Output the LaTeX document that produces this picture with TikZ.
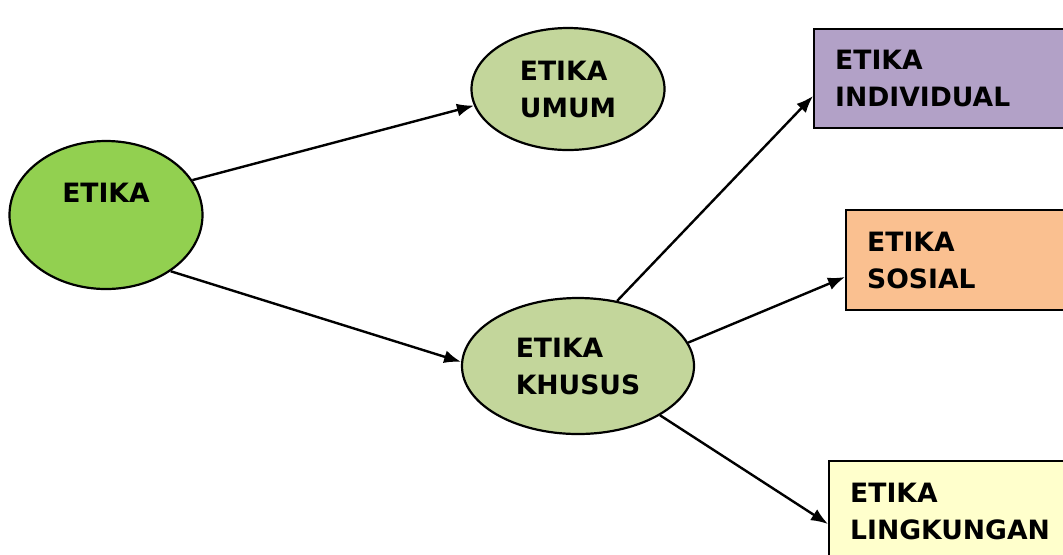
\documentclass[tikz,border=0pt]{standalone}
\usepackage{fontspec}
\setmainfont{DejaVu Sans}
\usepackage{tikz}
\usetikzlibrary{shapes.geometric,arrows.meta,calc}
\definecolor{hijau}{HTML}{92D050}
\definecolor{hijaumuda}{HTML}{C3D69B}
\definecolor{ungu}{HTML}{B2A1C7}
\definecolor{jingga}{HTML}{FAC090}
\definecolor{kuning}{HTML}{FFFFCC}

\begin{document}
\begin{tikzpicture}[x=0.5pt,y=-0.5pt,
    every node/.style={font=\fontsize{13.3}{18.5}\selectfont\bfseries},
    oval/.style={draw,ellipse,line width=1.1pt,inner sep=0pt,align=left},
    kotak/.style={draw,rectangle,line width=1.2pt,anchor=west,minimum height=50pt,
      inner xsep=10.5pt,text width=150pt,align=left},
    panah/.style={-{Latex[length=8.5pt,width=6.5pt]},line width=1.2pt}]
    \useasboundingbox (0,0) rectangle (1063,554);
    \clip (0,0) rectangle (1063,554);

    \node[oval,fill=hijau,minimum width=96.5pt,minimum height=74pt] (etika) at (106,215) {};
    \node (etikateks) at ($(etika)+(0,-22)$) {ETIKA};
    \node[oval,fill=hijaumuda,minimum width=96.5pt,minimum height=61pt] (umum) at (568,89) {ETIKA\\UMUM};
    \node[oval,fill=hijaumuda,minimum width=116pt,minimum height=68pt] (khusus) at (578,366) {ETIKA\\KHUSUS};

    \node[kotak,fill=ungu,minimum height=49.5pt] (individual) at (813,78.5) {ETIKA\\INDIVIDUAL};
    \node[kotak,fill=jingga] (sosial) at (845,260) {ETIKA\\SOSIAL};
    \node[kotak,fill=kuning] (lingkungan) at (828,511) {ETIKA\\LINGKUNGAN};

    \draw[panah] (etika.22) -- (umum.190);
    \draw[panah] (etika.-41) -- (khusus.178);
    \draw[panah] (khusus.59) -- ($(individual.west)+(0,17.5)$);
    \draw[panah] (khusus.12) -- ($(sosial.west)+(0,17)$);
    \draw[panah] (khusus.-31) -- ($(lingkungan.west)+(0,13)$);
  \end{tikzpicture}
\end{document}
